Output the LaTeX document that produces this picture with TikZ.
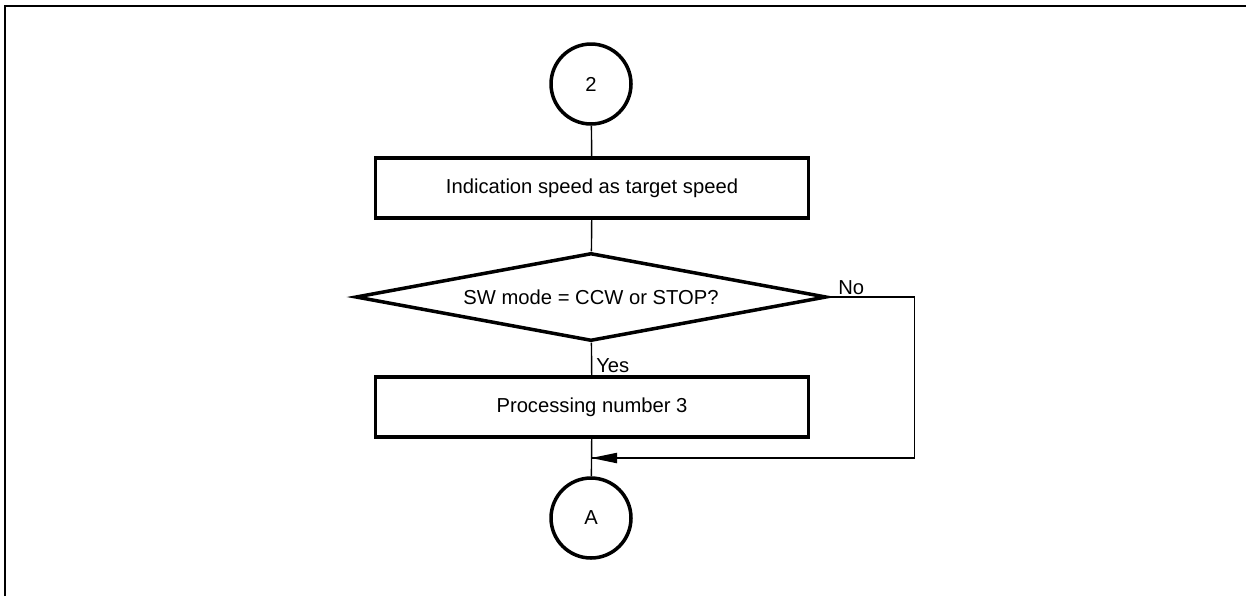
\documentclass[tikz,border=0pt]{standalone}
\usepackage{fontspec}
\setmainfont{Liberation Sans}
\usepackage{tikz}
\usetikzlibrary{shapes.geometric,arrows.meta}

\begin{document}
\begin{tikzpicture}[x=0.02cm,y=-0.02cm,
    font=\fontsize{11.5}{14}\selectfont,
    conn/.style={draw,circle,line width=2pt,minimum size=1.6cm,inner sep=0pt},
    proc/.style={draw,rectangle,line width=2pt,minimum width=8.66cm,minimum height=1.2cm,inner sep=0pt},
    test/.style={draw,diamond,aspect=5.35,line width=2pt,minimum width=9.42cm,minimum height=1.76cm,inner sep=0pt},
    flow/.style={line width=0.8pt},
    lbl/.style={inner sep=0pt}]
      \useasboundingbox (0,0) rectangle (1246,596);
      \draw[line width=1.6pt] (5,596) -- (5,6) -- (1246,6);

      \node[conn] (two) at (591,84) {2};
      \node[proc] (speed) at (592,188) {Indication speed as target speed};
      \node[test] (mode) at (591,297) {SW mode = CCW or STOP?};
      \node[proc] (num3) at (592,407) {Processing number 3};
      \node[conn] (outA) at (591,518) {A};

      \node[lbl,anchor=base west] (yes) at (596,372) {Yes};
      \node[lbl,anchor=base west] (no) at (838,294) {No};
      \coordinate (merge) at (591,458);

      \draw[flow] (two) -- (speed);
      \draw[flow] (speed) -- (mode);
      \draw[flow] (mode) -- (num3);
      \draw[flow] (num3) -- (outA);
      \draw[flow] (mode.east) -- ++(86,0) |- (merge);
      \draw[line width=1.2pt,-{Triangle[length=0.52cm,width=0.2cm]}] (913,458) -- (merge);
    \end{tikzpicture}
\end{document}
